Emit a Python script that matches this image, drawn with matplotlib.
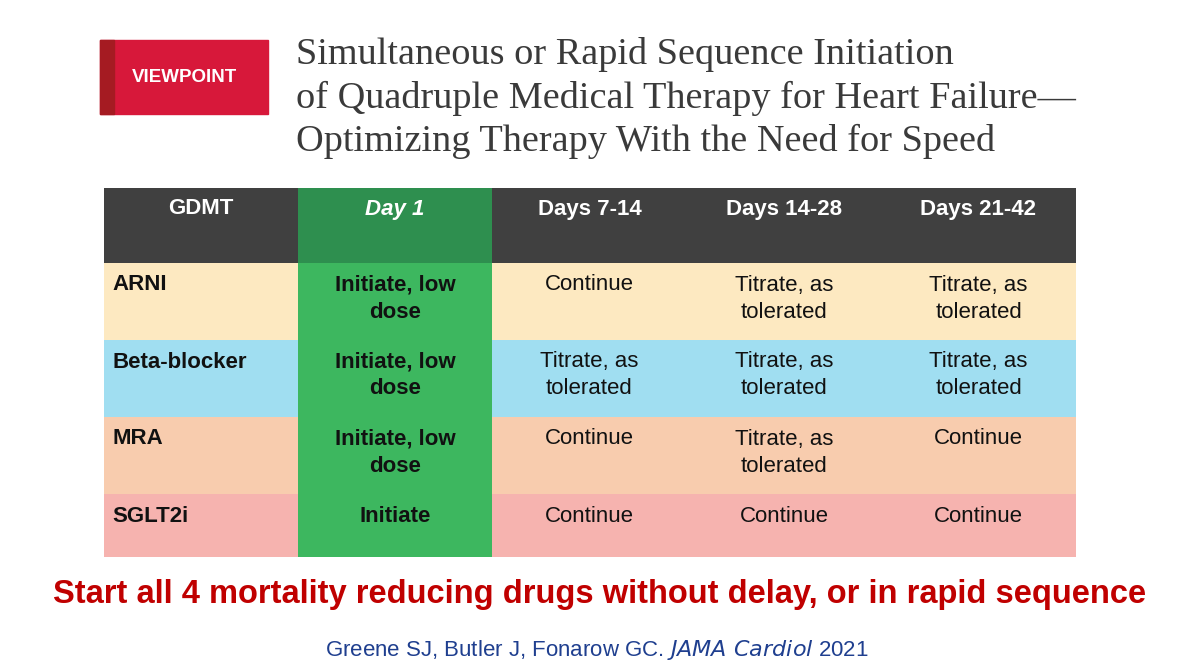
import matplotlib
matplotlib.use("Agg")
import matplotlib.pyplot as plt
from matplotlib.patches import Rectangle

headers = ["GDMT", "Day 1", "Days 7-14", "Days 14-28", "Days 21-42"]
drugs = ["ARNI", "Beta-blocker", "MRA", "SGLT2i"]
day1 = ["Initiate, low\ndose", "Initiate, low\ndose", "Initiate, low\ndose", "Initiate"]
later = [
    ["Continue", "Titrate, as\ntolerated", "Titrate, as\ntolerated"],
    ["Titrate, as\ntolerated", "Titrate, as\ntolerated", "Titrate, as\ntolerated"],
    ["Continue", "Titrate, as\ntolerated", "Continue"],
    ["Continue", "Continue", "Continue"],
]
row_colors = ["#FDE9C1", "#A0DEF1", "#F8CCAE", "#F6B3AF"]
title_lines = ["Simultaneous or Rapid Sequence Initiation",
               "of Quadruple Medical Therapy for Heart Failure\u2014",
               "Optimizing Therapy With the Need for Speed"]
tagline = "Start all 4 mortality reducing drugs without delay, or in rapid sequence"

fig = plt.figure(figsize=(12, 6.72), dpi=100)
ax = fig.add_axes([0, 0, 1, 1])
ax.set_xlim(0, 1200); ax.set_ylim(672, 0); ax.axis("off")

ax.add_patch(Rectangle((100, 40), 168, 74, color="#D7183A"))
ax.add_patch(Rectangle((100, 40), 14, 74, color="#A51B22"))
ax.text(184, 78, "VIEWPOINT", color="white", fontsize=13.5, fontweight="bold",
        ha="center", va="center", family="Liberation Sans")
for i, t in enumerate(title_lines):
    ax.text(296, 55 + i * 43, t, fontsize=27.5, color="#3a3a3a", va="center",
            family="Liberation Serif")

xs = [104, 298, 492, 687, 881, 1076]
ys = [188, 263, 340, 417, 494, 557]
fam = "Liberation Sans"
fs = 16
for j, h in enumerate(headers):
    c = "#2E8F4F" if j == 1 else "#404040"
    ax.add_patch(Rectangle((xs[j], ys[0]), xs[j+1]-xs[j], ys[1]-ys[0], color=c, lw=0))
    ax.text((xs[j]+xs[j+1])/2, 209, h, color="white", fontsize=fs, fontweight="bold",
            ha="center", va="center", family=fam, style="italic" if j == 1 else "normal")
for i, d in enumerate(drugs):
    y0, y1 = ys[i+1], ys[i+2]
    for j in range(5):
        c = "#3DB75F" if j == 1 else row_colors[i]
        ax.add_patch(Rectangle((xs[j], y0), xs[j+1]-xs[j], y1-y0, color=c, lw=0))
    ax.text(112, y0 + 22, d, fontsize=fs, fontweight="bold", va="center", family=fam, color="#111")
    for k, t in enumerate([day1[i]] + later[i]):
        for m, line in enumerate(t.split("\n")):
            ax.text((xs[k+1]+xs[k+2])/2, y0 + 22 + 27 * m, line, fontsize=fs,
                    fontweight="bold" if k == 0 else "normal", ha="center",
                    va="center", family=fam, color="#111")

ax.text(600, 595, tagline, color="#C00000", fontsize=23.5, fontweight="bold",
        ha="center", va="center", family=fam)
ax.text(597, 650, "Greene SJ, Butler J, Fonarow GC. $\\it{JAMA\\ Cardiol}$ 2021", color="#1F3F8F",
        fontsize=16, ha="center", va="center", family=fam)
fig.savefig("out.png", dpi=100)
